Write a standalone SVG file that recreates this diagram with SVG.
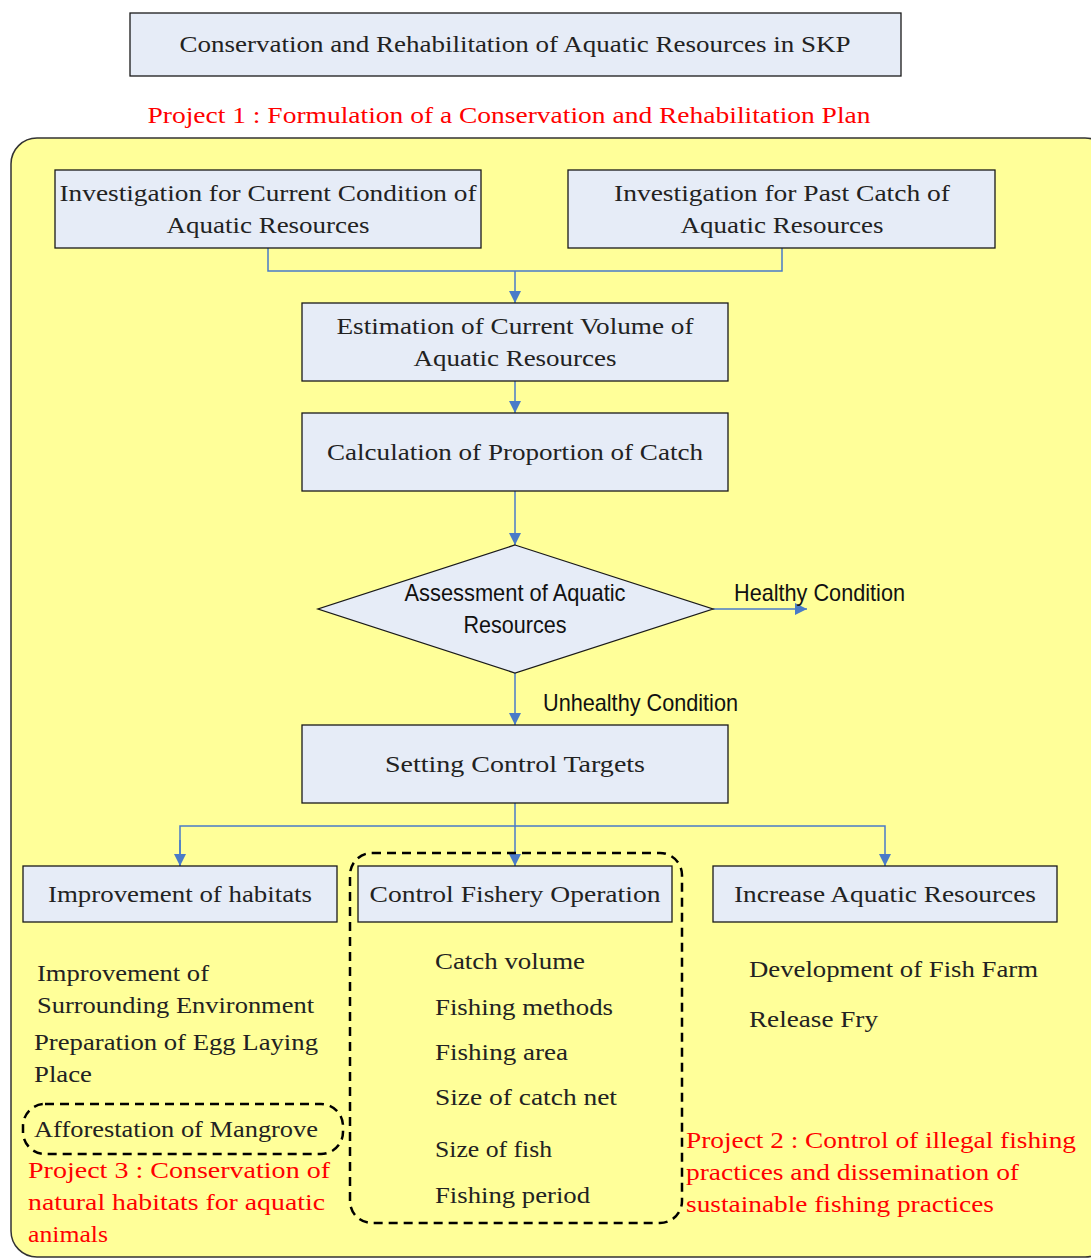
<svg xmlns="http://www.w3.org/2000/svg" width="1091" height="1258" viewBox="0 0 1091 1258">
<defs>
<style>
.box{fill:#E6ECF7;stroke:#1a1a1a;stroke-width:1.3}
.t{font-family:"Liberation Serif",serif;font-size:24px;fill:#222}
.c{text-anchor:middle}
.r{font-family:"Liberation Serif",serif;font-size:24px;fill:#FF0000}
.s{font-family:"Liberation Sans Narrow","Liberation Sans",sans-serif;font-size:24px;fill:#111}
.con{fill:none;stroke:#4A7BC8;stroke-width:1.5}
.dash{fill:none;stroke:#000;stroke-width:2.5;stroke-dasharray:9,6}
</style>
<marker id="ah" markerWidth="12" markerHeight="12" refX="12" refY="6" orient="auto" markerUnits="userSpaceOnUse">
<path d="M0,0 L12,6 L0,12 z" fill="#4A7BC8"/>
</marker>
</defs>
<rect x="0" y="0" width="1091" height="1258" fill="#fff"/>
<g id="title">
<rect class="box" x="130" y="13" width="771" height="63"/>
<text class="t c" x="515" y="52" textLength="671" lengthAdjust="spacingAndGlyphs">Conservation and Rehabilitation of Aquatic Resources in SKP</text>
</g>
<text class="r c" x="509" y="123" textLength="723" lengthAdjust="spacingAndGlyphs">Project 1 : Formulation of a Conservation and Rehabilitation Plan</text>
<rect id="project1-area" x="11" y="138" width="1100" height="1119" rx="26" fill="#FFFF99" stroke="#333" stroke-width="1.5"/>
<g id="connectors">
<path class="con" d="M268,248 V271 H782 V248"/>
<path class="con" d="M515,271 V303" marker-end="url(#ah)"/>
<path class="con" d="M515,381 V413" marker-end="url(#ah)"/>
<path class="con" d="M515,491 V545" marker-end="url(#ah)"/>
<path class="con" d="M713,609 H807" marker-end="url(#ah)"/>
<path class="con" d="M515,673 V725" marker-end="url(#ah)"/>
<path class="con" d="M515,803 V866" marker-end="url(#ah)"/>
<path class="con" d="M180,866 V826 H885 V866" marker-end="url(#ah)"/>
<path class="con" d="M180,840 V866" marker-end="url(#ah)"/>
</g>
<g id="n-current">
<rect class="box" x="55" y="170" width="426" height="78"/>
<text class="t c" x="268" y="201" textLength="417" lengthAdjust="spacingAndGlyphs">Investigation for Current Condition of</text>
<text class="t c" x="268" y="233" textLength="203" lengthAdjust="spacingAndGlyphs">Aquatic Resources</text>
</g>
<g id="n-past">
<rect class="box" x="568" y="170" width="427" height="78"/>
<text class="t c" x="782" y="201" textLength="336" lengthAdjust="spacingAndGlyphs">Investigation for Past Catch of</text>
<text class="t c" x="782" y="233" textLength="203" lengthAdjust="spacingAndGlyphs">Aquatic Resources</text>
</g>
<g id="n-estimation">
<rect class="box" x="302" y="303" width="426" height="78"/>
<text class="t c" x="515" y="334" textLength="357" lengthAdjust="spacingAndGlyphs">Estimation of Current Volume of</text>
<text class="t c" x="515" y="366" textLength="203" lengthAdjust="spacingAndGlyphs">Aquatic Resources</text>
</g>
<g id="n-calculation">
<rect class="box" x="302" y="413" width="426" height="78"/>
<text class="t c" x="515" y="460" textLength="376" lengthAdjust="spacingAndGlyphs">Calculation of Proportion of Catch</text>
</g>
<g id="n-assessment">
<polygon class="box" points="515,545 713,609 515,673 318,609"/>
<text class="s c" x="515" y="601" textLength="221" lengthAdjust="spacingAndGlyphs">Assessment of Aquatic</text>
<text class="s c" x="515" y="633" textLength="103" lengthAdjust="spacingAndGlyphs">Resources</text>
</g>
<text class="s" x="734" y="601" textLength="171" lengthAdjust="spacingAndGlyphs">Healthy Condition</text>
<text class="s" x="543" y="711" textLength="195" lengthAdjust="spacingAndGlyphs">Unhealthy Condition</text>
<g id="n-targets">
<rect class="box" x="302" y="725" width="426" height="78"/>
<text class="t c" x="515" y="772" textLength="260" lengthAdjust="spacingAndGlyphs">Setting Control Targets</text>
</g>
<g id="n-habitats">
<rect class="box" x="23" y="866" width="314" height="56"/>
<text class="t c" x="180" y="902" textLength="264" lengthAdjust="spacingAndGlyphs">Improvement of habitats</text>
</g>
<g id="n-fishery">
<rect class="box" x="358" y="866" width="314" height="56"/>
<text class="t c" x="515" y="902" textLength="291" lengthAdjust="spacingAndGlyphs">Control Fishery Operation</text>
</g>
<g id="n-increase">
<rect class="box" x="713" y="866" width="344" height="56"/>
<text class="t c" x="885" y="902" textLength="302" lengthAdjust="spacingAndGlyphs">Increase Aquatic Resources</text>
</g>
<rect class="dash" x="350" y="853" width="332" height="370" rx="22"/>
<rect class="dash" x="23" y="1104" width="320" height="50" rx="22"/>
<g id="habitat-items">
<text class="t" x="37" y="981" textLength="172" lengthAdjust="spacingAndGlyphs">Improvement of</text>
<text class="t" x="37" y="1013" textLength="277" lengthAdjust="spacingAndGlyphs">Surrounding Environment</text>
<text class="t" x="34" y="1050" textLength="284" lengthAdjust="spacingAndGlyphs">Preparation of Egg Laying</text>
<text class="t" x="34" y="1082" textLength="58" lengthAdjust="spacingAndGlyphs">Place</text>
<text class="t" x="34" y="1137" textLength="284" lengthAdjust="spacingAndGlyphs">Afforestation of Mangrove</text>
</g>
<g id="fishery-items">
<text class="t" x="435" y="969" textLength="150" lengthAdjust="spacingAndGlyphs">Catch volume</text>
<text class="t" x="435" y="1015" textLength="178" lengthAdjust="spacingAndGlyphs">Fishing methods</text>
<text class="t" x="435" y="1060" textLength="133" lengthAdjust="spacingAndGlyphs">Fishing area</text>
<text class="t" x="435" y="1105" textLength="182" lengthAdjust="spacingAndGlyphs">Size of catch net</text>
<text class="t" x="435" y="1157" textLength="117" lengthAdjust="spacingAndGlyphs">Size of fish</text>
<text class="t" x="435" y="1203" textLength="155" lengthAdjust="spacingAndGlyphs">Fishing period</text>
</g>
<g id="increase-items">
<text class="t" x="749" y="977" textLength="289" lengthAdjust="spacingAndGlyphs">Development of Fish Farm</text>
<text class="t" x="749" y="1027" textLength="129" lengthAdjust="spacingAndGlyphs">Release Fry</text>
</g>
<g id="project3">
<text class="r" x="28" y="1178" textLength="302" lengthAdjust="spacingAndGlyphs">Project 3 : Conservation of</text>
<text class="r" x="28" y="1210" textLength="297" lengthAdjust="spacingAndGlyphs">natural habitats for aquatic</text>
<text class="r" x="28" y="1242" textLength="80" lengthAdjust="spacingAndGlyphs">animals</text>
</g>
<g id="project2">
<text class="r" x="686" y="1148" textLength="390" lengthAdjust="spacingAndGlyphs">Project 2 : Control of illegal fishing</text>
<text class="r" x="686" y="1180" textLength="333" lengthAdjust="spacingAndGlyphs">practices and dissemination of</text>
<text class="r" x="686" y="1212" textLength="308" lengthAdjust="spacingAndGlyphs">sustainable fishing practices</text>
</g>
</svg>
